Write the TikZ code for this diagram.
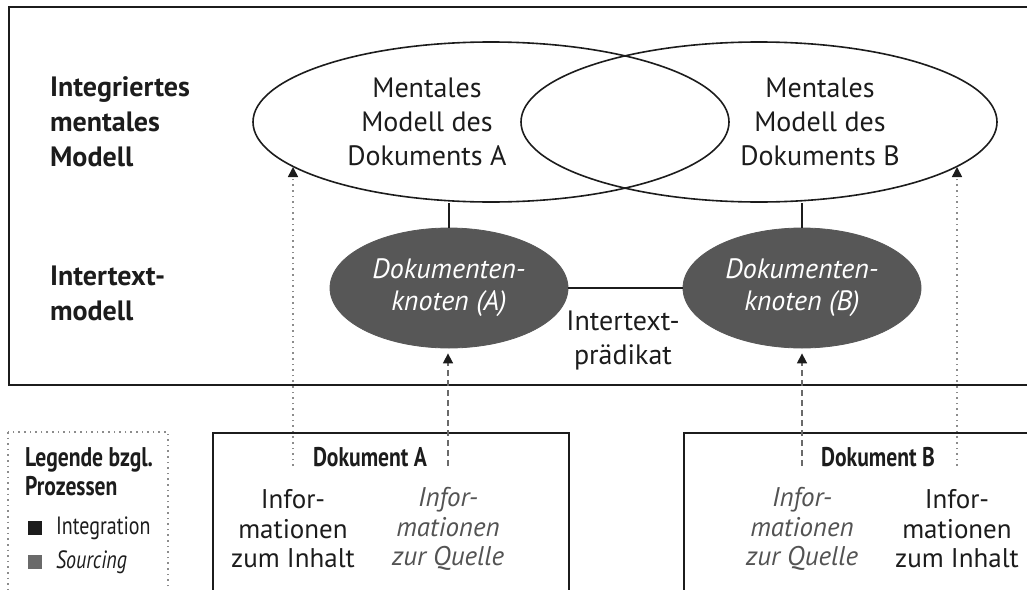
\documentclass[tikz,border=0pt]{standalone}
\usepackage{fontspec}
\setmainfont{PT Sans}
\newfontfamily\narrowsans[FakeStretch=0.8]{PT Sans}
\usetikzlibrary{arrows.meta,shapes.geometric}
\definecolor{immInk}{HTML}{1C1C1C}
\definecolor{immKnot}{HTML}{575757}
\definecolor{immGray}{HTML}{6A6A6A}
\definecolor{immDots}{HTML}{8C8C8C}
\tikzset{
  imm frame/.style={draw=immInk, line width=1.1pt},
  imm model/.style={ellipse, draw=immInk, line width=0.8pt, minimum width=238pt, minimum height=80pt, inner sep=0pt},
  imm knot/.style={ellipse, draw=immKnot, fill=immKnot, minimum width=119pt, minimum height=60pt, inner sep=0pt,
    text=white, align=center, font=\itshape\fontsize{14}{16}\selectfont},
  imm link/.style={draw=immInk, line width=0.8pt},
  imm integ/.style={draw=immDots, dotted, line width=0.8pt, -{Triangle[width=5pt,length=5pt,color=immInk]}},
  imm sourcing/.style={draw=immGray, dash pattern=on 3pt off 2pt, line width=0.8pt, -{Triangle[width=5pt,length=5pt,color=immInk]}},
  imm text/.style={align=center, text=immInk, font=\fontsize{14}{17}\selectfont},
  imm doc text/.style={align=center, text=immInk, font=\fontsize{13.5}{14.8}\selectfont},
  imm label/.style={anchor=west, align=left, text=immInk, font=\bfseries\fontsize{14}{17.5}\selectfont},
  imm doc title/.style={text=immInk, font=\narrowsans\bfseries\fontsize{13.5}{14}\selectfont},
  imm legend/.style={draw=immDots, dotted, line width=0.8pt},
  imm legend text/.style={anchor=west, align=left, text=immInk, font=\narrowsans\fontsize{12.5}{14.5}\selectfont},
}

\begin{document}
\begin{tikzpicture}[x=0.5pt,y=-0.5pt]
  \clip (0,0) rectangle (1027,589);
  \draw[imm frame] (9,7) rectangle (1040,385);
  \node[imm label] (lblModel) at (43,122) {Integriertes\\mentales\\Modell};
  \node[imm label] (lblInter) at (43,293) {Intertext-\\modell};
  \node[imm model] (mmA) at (491,122) {};
  \node[imm model] (mmB) at (759,122) {};
  \node[imm text] (txtA) at (427,122) {Mentales\\Modell des\\Dokuments A};
  \node[imm text] (txtB) at (820,122) {Mentales\\Modell des\\Dokuments B};
  \node[imm knot] (kA) at (449,288) {Dokumenten-\\knoten (A)};
  \node[imm knot] (kB) at (802,288) {Dokumenten-\\knoten (B)};
  \node[imm text] (praed) at (623,340) {Intertext-\\prädikat};
  \draw[imm link] (kA) -- (kB);
  \draw[imm link] (kA) -- (kA |- mmA.south);
  \draw[imm link] (kB) -- (kB |- mmB.south);

  \node[imm frame, rectangle, anchor=north west, minimum width=178pt, minimum height=90pt] (docA) at (212,432) {};
  \node[imm frame, rectangle, anchor=north west, minimum width=190pt, minimum height=90pt] (docB) at (683,432) {};
  \node[imm doc title] (titA) at (370,457) {Dokument A};
  \node[imm doc title] (titB) at (878,457) {Dokument B};
  \node[imm doc text] (inhA) at (293,529) {Infor-\\mationen\\zum Inhalt};
  \node[imm doc text, font=\itshape\fontsize{13.5}{14.8}\selectfont, text=immGray!70!immInk] (quA) at (448,529) {Infor-\\mationen\\zur Quelle};
  \node[imm doc text, font=\itshape\fontsize{13.5}{14.8}\selectfont, text=immGray!70!immInk] (quB) at (802,529) {Infor-\\mationen\\zur Quelle};
  \node[imm doc text] (inhB) at (957,529) {Infor-\\mationen\\zum Inhalt};

  \coordinate (inA) at (293,466);
  \coordinate (tipA) at (293,167);
  \coordinate (inB) at (957,466);
  \coordinate (tipB) at (957,167);
  \coordinate (srcA) at (448,466);
  \coordinate (srcB) at (802,466);
  \draw[imm integ] (inA) -- (tipA);
  \draw[imm integ] (inB) -- (tipB);
  \draw[imm sourcing, shorten >=2.5pt] (srcA) -- (srcA |- kA.south);
  \draw[imm sourcing, shorten >=2.5pt] (srcB) -- (srcB |- kB.south);

  \draw[imm legend] (8,432) rectangle (168,600);
  \node[imm legend text, font=\narrowsans\bfseries\fontsize{13.5}{14.5}\selectfont] (legTitle) at (18,472) {Legende bzgl.\\Prozessen};
  \foreach \name/\col/\txt/\y in {integ/immInk/Integration/528, sourc/immGray/\itshape Sourcing/562} {
    \fill[\col] (28,\y-7) rectangle (42,\y+7);
    \node[imm legend text] (leg\name) at (49,\y) {\txt};
  }
\end{tikzpicture}
\end{document}
